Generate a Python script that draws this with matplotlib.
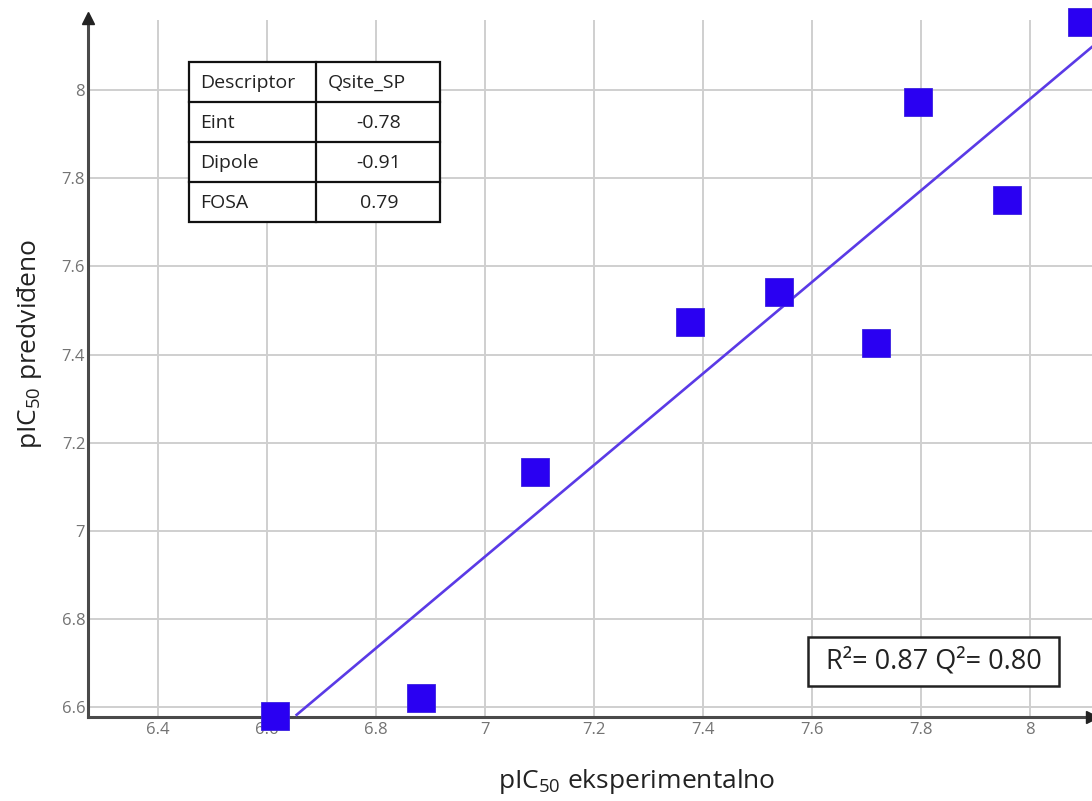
import matplotlib
matplotlib.use("Agg")
import matplotlib.pyplot as plt
from matplotlib.patches import Rectangle

plt.rcParams['font.family'] = ['Open Sans', 'DejaVu Sans']
plt.rcParams['mathtext.fontset'] = 'custom'
plt.rcParams['mathtext.rm'] = 'Open Sans'
plt.rcParams['mathtext.it'] = 'Open Sans:italic'
plt.rcParams['mathtext.default'] = 'regular'

# Data
pic50_exp = [6.615, 6.883, 7.092, 7.376, 7.539, 7.718, 7.795, 7.958, 8.095]
pic50_pred = [6.580, 6.620, 7.134, 7.473, 7.543, 7.427, 7.973, 7.750, 8.154]
fit_x = [6.654, 8.20]
fit_y = [6.583, 8.187]
x_ticks = [6.4, 6.6, 6.8, 7.0, 7.2, 7.4, 7.6, 7.8, 8.0]
x_ticklabels = ['6.4', '6.6', '6.8', '7', '7.2', '7.4', '7.6', '7.8', '8']
y_ticks = [6.6, 6.8, 7.0, 7.2, 7.4, 7.6, 7.8, 8.0]
y_ticklabels = ['6.6', '6.8', '7', '7.2', '7.4', '7.6', '7.8', '8']
table_header = ['Descriptor', 'Qsite_SP']
descriptors = ['Eint', 'Dipole', 'FOSA']
coefficients = ['-0.78', '-0.91', '0.79']
stats_text = 'R²= 0.87 Q²= 0.80'

W, H = 1092, 801
fig = plt.figure(figsize=(W / 100, H / 100), dpi=100)
ax_l, ax_r, ax_b, ax_t = 88, 1092, 716.7, 20
ax = fig.add_axes([ax_l / W, (H - ax_b) / H, (ax_r - ax_l) / W, (ax_b - ax_t) / H])

ax.set_xlim(6.271, 8.114)
ax.set_ylim(6.5787, 8.1588)

ax.set_xticks(x_ticks)
ax.set_xticklabels(x_ticklabels)
ax.set_yticks(y_ticks)
ax.set_yticklabels(y_ticklabels)
ax.tick_params(length=0, labelsize=12, labelcolor='#737373')
ax.tick_params(axis='x', pad=4)
ax.tick_params(axis='y', pad=2)
ax.grid(True, color='#cfcfcf', linewidth=1.4)
ax.set_axisbelow(True)

for s in ['top', 'right']:
    ax.spines[s].set_visible(False)
for s in ['left', 'bottom']:
    ax.spines[s].set_color('#4a4a4a')
    ax.spines[s].set_linewidth(2.2)

# arrows at axis ends
ax.plot([0], [1.003], marker='^', markersize=8, color='#222222',
        transform=ax.transAxes, clip_on=False, zorder=6)
ax.plot([1.0], [0], marker='>', markersize=8, color='#222222',
        transform=ax.transAxes, clip_on=False, zorder=6)

# regression line
ax.plot(fit_x, fit_y, color='#5a3ae6', linewidth=1.9, zorder=3)

# points
ax.plot(pic50_exp, pic50_pred, linestyle='none', marker='s', markersize=19.5,
        markerfacecolor='#2a00f2', markeredgecolor='#3a20e0', markeredgewidth=0.6,
        clip_on=False, zorder=7)

ax.set_xlabel(r'pIC$_{50}$ eksperimentalno', fontsize=19, color='#222222')
ax.set_ylabel(r'pIC$_{50}$ predviđeno', fontsize=19, color='#222222')
ax.xaxis.set_label_coords(0.547, -0.072)
ax.yaxis.set_label_coords(-0.044, 0.535)

# descriptor table (drawn in axes coords)
def px2ax(px, py):
    return ((px - ax_l) / (ax_r - ax_l), (ax_b - py) / (ax_b - ax_t))

tx0, tx1, tcol = 189, 440, 316
ty0 = 62
row_h = 40
tb_x0, tb_y0 = px2ax(tx0, ty0 + 4 * row_h)
tb_x1, tb_y1 = px2ax(tx1, ty0)
ax.add_patch(Rectangle((tb_x0, tb_y0), tb_x1 - tb_x0, tb_y1 - tb_y0,
                       transform=ax.transAxes, facecolor='white',
                       edgecolor='#111111', linewidth=1.6, zorder=8))
cx, _ = px2ax(tcol, 0)
ax.plot([cx, cx], [tb_y0, tb_y1], color='#111111', linewidth=1.6,
        transform=ax.transAxes, zorder=9)
for i in range(1, 4):
    _, yy = px2ax(0, ty0 + i * row_h)
    ax.plot([tb_x0, tb_x1], [yy, yy], color='#111111', linewidth=1.6,
            transform=ax.transAxes, zorder=9)
rows = [table_header] + [[d, c] for d, c in zip(descriptors, coefficients)]
for i, (c1, c2) in enumerate(rows):
    cy = ty0 + i * row_h + row_h / 2 + 1
    x1, y1 = px2ax(tx0 + 11, cy)
    ax.text(x1, y1, c1, transform=ax.transAxes, fontsize=14, color='#222222',
            ha='left', va='center', zorder=10)
    if i == 0:
        x2, y2 = px2ax(tcol + 12, cy)
        ax.text(x2, y2, c2, transform=ax.transAxes, fontsize=14, color='#222222',
                ha='left', va='center', zorder=10)
    else:
        x2, y2 = px2ax((tcol + tx1) / 2 + 1, cy)
        ax.text(x2, y2, c2, transform=ax.transAxes, fontsize=14, color='#222222',
                ha='center', va='center', zorder=10)

# stats box
bx0, by0 = px2ax(808, 686)
bx1, by1 = px2ax(1059, 637)
ax.add_patch(Rectangle((bx0, by0), bx1 - bx0, by1 - by0, transform=ax.transAxes,
                       facecolor='white', edgecolor='#222222', linewidth=1.8, zorder=8))
ax.text((bx0 + bx1) / 2, (by0 + by1) / 2, stats_text, transform=ax.transAxes,
        fontsize=19.5, color='#222222', ha='center', va='center', zorder=10)

fig.savefig('out.png', dpi=100)
